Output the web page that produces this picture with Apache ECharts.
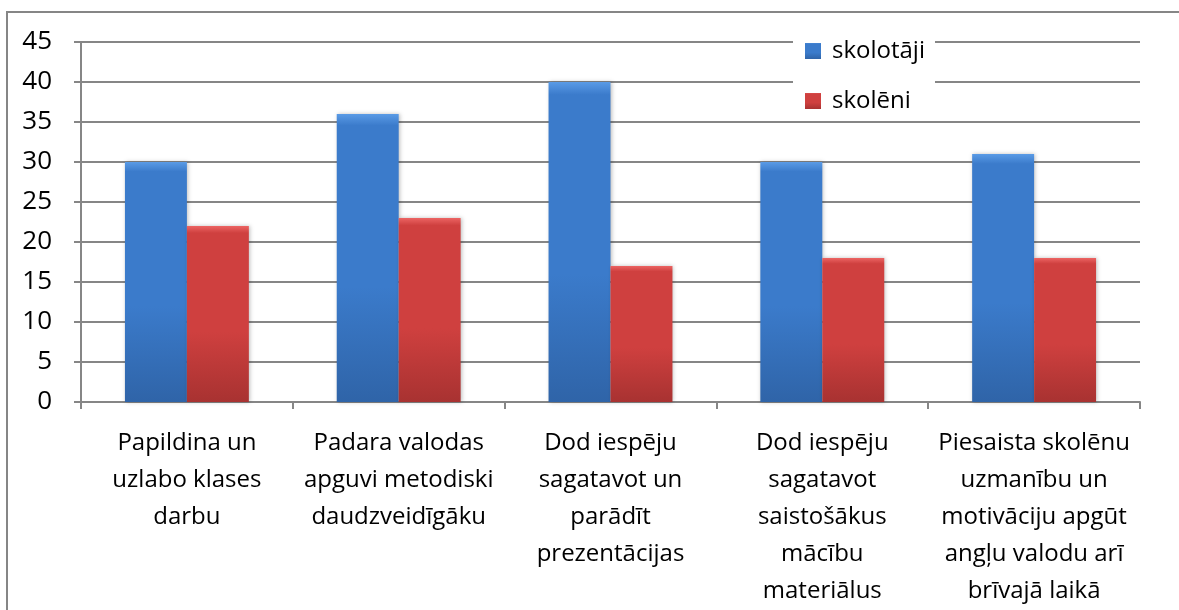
<!DOCTYPE html>
<html>
<head>
<meta charset="utf-8">
<script src="https://cdn.jsdelivr.net/npm/echarts@6/dist/echarts.min.js"></script>
<style>
  html, body { margin: 0; padding: 0; background: #fff; }
  #chart { width: 1179px; height: 610px; }
</style>
</head>
<body>
<div id="chart"></div>
<script>
// Survey answers: how teachers (skolotāji) and pupils (skolēni) rate the benefits
const categories = [
  'Papildina un\nuzlabo klases\ndarbu',
  'Padara valodas\napguvi metodiski\ndaudzveidīgāku',
  'Dod iespēju\nsagatavot un\nparādīt\nprezentācijas',
  'Dod iespēju\nsagatavot\nsaistošākus\nmācību\nmateriālus',
  'Piesaista skolēnu\nuzmanību un\nmotivāciju apgūt\nangļu valodu arī\nbrīvajā laikā'
];
const teachers = [30, 36, 40, 30, 31];
const pupils = [22, 23, 17, 18, 18];
const seriesNames = ['skolotāji', 'skolēni'];

const FONT = '"Open Sans", "Noto Sans", sans-serif';
const GREY = '#868686';

function barFill(top, mid, bottom) {
  return new echarts.graphic.LinearGradient(0, 0, 0, 1, [
    { offset: 0, color: top },
    { offset: 0.04, color: mid },
    { offset: 0.6, color: mid },
    { offset: 1, color: bottom }
  ]);
}

const chart = echarts.init(document.getElementById('chart'), null, { renderer: 'canvas' });
chart.setOption({
  animation: false,
  backgroundColor: '#fff',
  graphic: [{
    type: 'rect',
    shape: { x: 7, y: 12, width: 1200, height: 640 },
    style: { fill: 'none', stroke: GREY, lineWidth: 2 },
    z: -10
  }],
  grid: { left: 81, right: 39, top: 42, bottom: 208, containLabel: false },
  legend: {
    orient: 'vertical',
    left: 793,
    top: 31,
    width: 147,
    padding: [8, 10, 8, 12],
    itemGap: 26,
    itemWidth: 16,
    itemHeight: 16,
    icon: 'rect',
    backgroundColor: '#fff',
    textStyle: { fontFamily: FONT, fontSize: 24, color: '#000', padding: [0, 0, 0, 6] },
    data: seriesNames
  },
  xAxis: {
    type: 'category',
    data: categories,
    axisLine: { lineStyle: { color: GREY, width: 2 } },
    axisTick: { show: true, length: 7, lineStyle: { color: GREY, width: 2 } },
    axisLabel: {
      interval: 0,
      margin: 23,
      color: '#000',
      fontFamily: FONT,
      fontSize: 24,
      lineHeight: 37,
      align: 'center'
    }
  },
  yAxis: {
    type: 'value',
    min: 0,
    max: 45,
    interval: 5,
    axisLine: { show: true, lineStyle: { color: GREY, width: 2 } },
    axisTick: { show: true, length: 7, lineStyle: { color: GREY, width: 2 } },
    splitLine: { lineStyle: { color: GREY, width: 2 } },
    axisLabel: { margin: 29, color: '#000', fontFamily: FONT, fontSize: 26 }
  },
  series: [
    {
      name: seriesNames[0],
      type: 'bar',
      data: teachers,
      barGap: '0%',
      barCategoryGap: '41.5%',
      itemStyle: {
        color: barFill('#5a9be6', '#3b7bcb', '#2f64a8'),
        shadowColor: 'rgba(0,0,0,0.25)',
        shadowBlur: 4,
        shadowOffsetX: 1
      }
    },
    {
      name: seriesNames[1],
      type: 'bar',
      data: pupils,
      itemStyle: {
        color: barFill('#ec6463', '#cf403f', '#a83231'),
        shadowColor: 'rgba(0,0,0,0.25)',
        shadowBlur: 4,
        shadowOffsetX: 1
      }
    }
  ]
});
</script>
</body>
</html>
